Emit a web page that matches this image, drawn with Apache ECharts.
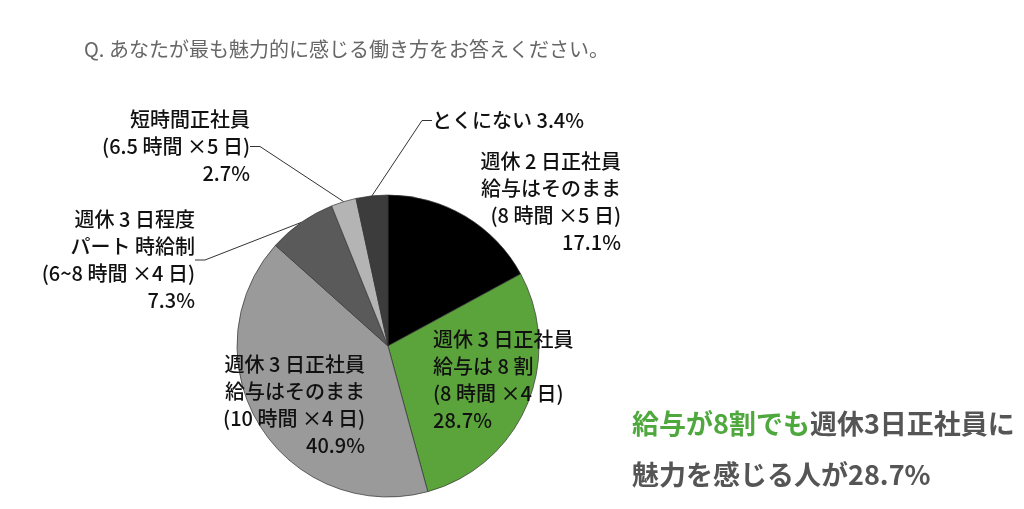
<!DOCTYPE html>
<html>
<head>
<meta charset="utf-8">
<script src="https://cdn.jsdelivr.net/npm/echarts@6/dist/echarts.min.js"></script>
<style>
  html, body { margin: 0; padding: 0; background: #fff; }
  #chart { width: 1024px; height: 509px; }
</style>
</head>
<body>
<div id="chart"></div>
<script>
var categories = [
  "週休 2 日正社員\n給与はそのまま\n(8 時間 ×5 日)",
  "週休 3 日正社員\n給与は 8 割\n(8 時間 ×4 日)",
  "週休 3 日正社員\n給与はそのまま\n(10 時間 ×4 日)",
  "週休 3 日程度\nパート 時給制\n(6~8 時間 ×4 日)",
  "短時間正社員\n(6.5 時間 ×5 日)",
  "とくにない"
];
var shares = [17.1, 28.7, 40.9, 7.3, 2.7, 3.4];
var sliceColors = ["#000000", "#5ba43c", "#9a9a9a", "#5a5a5a", "#b4b4b4", "#3c3c3c"];

var font = '"Noto Sans CJK JP", "Noto Sans", sans-serif';

// where each label sits (anchor x, top y, alignment)
var labelSpots = [
  { x: 621, y: 148, align: "right" },
  { x: 433, y: 326, align: "left" },
  { x: 365, y: 351, align: "right" },
  { x: 195, y: 206, align: "right" },
  { x: 250, y: 106, align: "right" },
  { x: 432, y: 107, align: "left" }
];

var chart = echarts.init(document.getElementById("chart"));

var option = {
  backgroundColor: "#fff",
  title: [
    {
      text: "Q. あなたが最も魅力的に感じる働き方をお答えください。",
      left: 79,
      top: 34,
      textStyle: { fontFamily: font, fontSize: 20, fontWeight: "normal", color: "#666" }
    },
    {
      text: "{g|給与が8割でも}{d|週休3日正社員に}\n{d|魅力を感じる人が28.7%}",
      left: 627,
      top: 393,
      textStyle: {
        rich: {
          g: { fontFamily: font, fontSize: 27, fontWeight: "bold", color: "#4fa83d", lineHeight: 51 },
          d: { fontFamily: font, fontSize: 27, fontWeight: "bold", color: "#555", lineHeight: 51 }
        }
      }
    }
  ],
  series: [
    {
      type: "pie",
      center: [388, 346],
      radius: 151,
      startAngle: 90,
      clockwise: true,
      silent: true,
      itemStyle: { borderColor: "#333", borderWidth: 0.7 },
      data: categories.map(function (name, i) {
        return {
          name: name,
          value: shares[i],
          itemStyle: { color: sliceColors[i] },
          labelLine: { show: i >= 3 }
        };
      }),
      label: {
        show: true,
        position: "outside",
        fontFamily: font,
        fontSize: 20,
        fontWeight: 500,
        lineHeight: 27,
        color: "#111",
        formatter: function (p) {
          return p.dataIndex === 5 ? p.name + " " + p.value + "%" : p.name + "\n" + p.value + "%";
        }
      },
      labelLine: { lineStyle: { color: "#333", width: 1 }, length: 20, length2: 10 },
      labelLayout: function (p) {
        var s = labelSpots[p.dataIndex];
        return { x: s.x, y: s.y, align: s.align, verticalAlign: "top", hideOverlap: false };
      }
    }
  ]
};

chart.setOption(option);
</script>
</body>
</html>
